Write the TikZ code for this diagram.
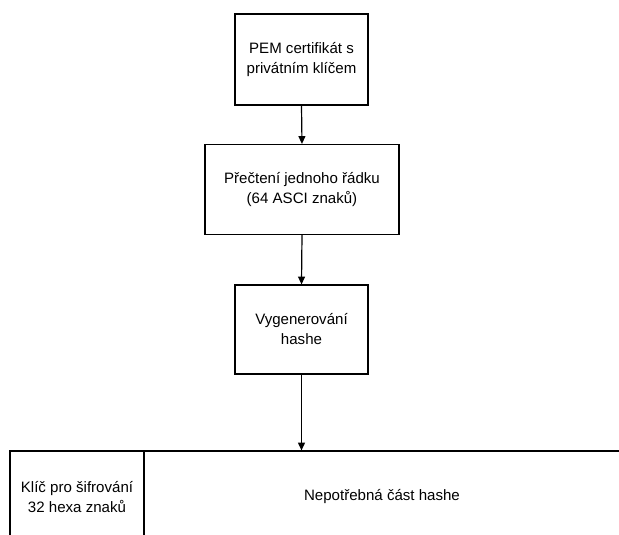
\documentclass[tikz,border=0pt]{standalone}
\usepackage{fontspec}
\setmainfont{Liberation Sans}
\usetikzlibrary{arrows.meta}
\begin{document}
\begin{tikzpicture}[x=0.75pt,y=-0.75pt,
  stepbox/.style={draw=black,line width=0.9pt,fill=white,inner sep=0pt,align=center,
    font=\fontsize{11.3}{15}\selectfont},
  flow/.style={draw=black,line width=0.9pt,-{Triangle[width=5.2pt,length=5.8pt]}}]
\useasboundingbox (0,0) rectangle (619,535);
\clip (0,0) rectangle (619,535);
% flow steps
\node[stepbox,minimum width=133*0.75pt,minimum height=91*0.75pt] (pem) at (301.5,59.5)
  {PEM certifikát s\\privátním klíčem};
\node[stepbox,minimum width=194*0.75pt,minimum height=90*0.75pt] (line) at (302,189.5)
  {Přečtení jednoho řádku\\(64 ASCI znaků)};
\node[stepbox,minimum width=133*0.75pt,minimum height=89*0.75pt] (hash) at (301.5,329.5)
  {Vygenerování\\hashe};
% split hash output
\node[stepbox,minimum width=134*0.75pt,minimum height=92*0.75pt] (key) at (77,497)
  {Klíč pro šifrování\\32 hexa znaků};
\node[stepbox,minimum width=476*0.75pt,minimum height=92*0.75pt] (rest) at (382,497)
  {Nepotřebná část hashe};
% connectors
\draw[flow] (pem.south) -- (line.north);
\draw[flow] (line.south) -- (hash.north);
\draw[flow] (hash.south) -- (hash.south |- rest.north);
\end{tikzpicture}
\end{document}
